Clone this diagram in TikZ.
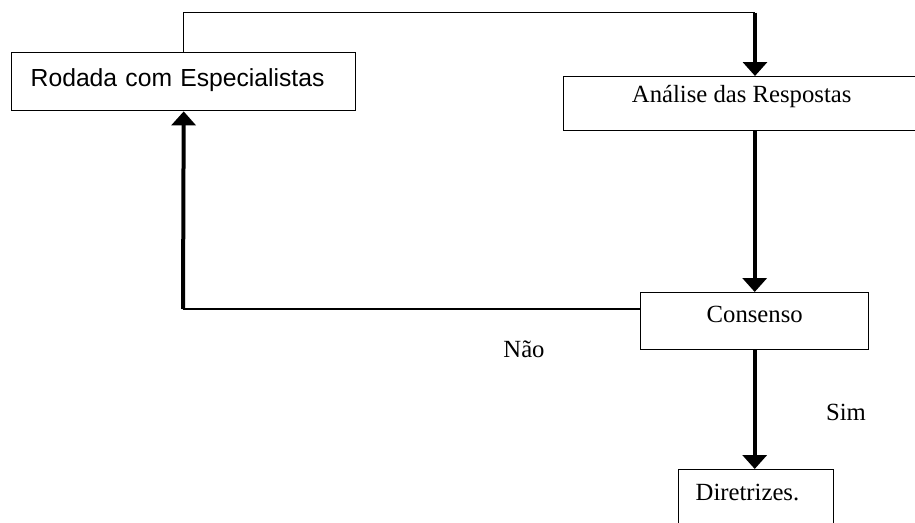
\documentclass[tikz,border=0pt]{standalone}
\usepackage{fontspec}
\setmainfont{Liberation Serif}
\newfontfamily\arialfont{Liberation Sans}
\usetikzlibrary{arrows.meta}
\begin{document}
\begin{tikzpicture}[x=1pt,y=-1pt,
  box/.style={draw=black,line width=1.4pt,inner xsep=0pt,inner ysep=0pt,
    font=\fontsize{24.7pt}{29pt}\selectfont},
  thinline/.style={line width=1.3pt},
  thickarrow/.style={line width=4pt,-{Triangle[width=24pt,length=14pt]}},
  lbl/.style={font=\fontsize{24.7pt}{29pt}\selectfont,inner sep=0pt,anchor=base}]
  \fill[white] (0,0) rectangle (915,522);
  \useasboundingbox (0,0) rectangle (915,522);

  % process boxes
  \node[box,anchor=north west,text width=306pt,align=left,inner xsep=19pt,
        text height=34pt,text depth=24pt,font=\arialfont\fontsize{24.7pt}{29pt}\selectfont]
        (rod) at (11,52) {Rodada com Especialistas};
  \node[box,anchor=north west,minimum width=356pt,text height=25.7pt,text depth=28.3pt]
        (ana) at (563,76) {An\'alise das Respostas};
  \node[box,anchor=north west,minimum width=228pt,text height=30pt,text depth=27pt]
        (con) at (640,292) {Consenso};
  \node[box,anchor=north west,text width=121pt,align=left,inner xsep=17pt,
        text height=31pt,text depth=45pt]
        (dir) at (678,469) {Diretrizes.};

  % bends of the connectors
  \coordinate (ctop) at (755,12.7);
  \coordinate (cleft) at (183,309);

  % Rodada -> Analise
  \draw[thinline] (rod.north) |- (ctop);
  \draw[thickarrow] (ctop) -- (ctop |- ana.north);
  % Analise -> Consenso
  \draw[thickarrow] (con.north |- ana.south) -- (con.north);
  % Consenso -> Rodada (Nao)
  \draw[thinline] (con.west |- cleft) -- (cleft);
  \draw[thickarrow] (cleft) -- (rod.south);
  % Consenso -> Diretrizes (Sim)
  \draw[thickarrow] (con.south) -- (con.south |- dir.north);

  % branch labels
  \node[lbl] (nao) at (524,357) {N\~ao};
  \node[lbl] (sim) at (846,420) {Sim};
\end{tikzpicture}
\end{document}
